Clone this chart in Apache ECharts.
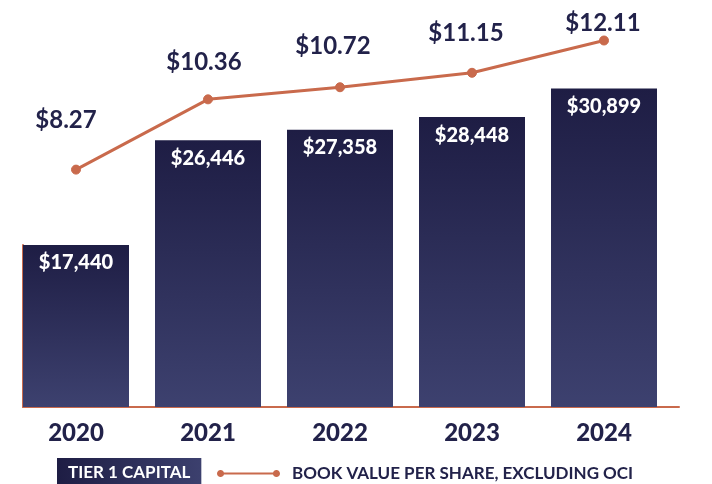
<!DOCTYPE html>
<html>
<head>
<meta charset="utf-8">
<script src="https://cdn.jsdelivr.net/npm/echarts@6/dist/echarts.min.js"></script>
<style>
  html, body { margin: 0; padding: 0; background: #ffffff; }
  #chart { width: 712px; height: 484px; }
</style>
</head>
<body>
<div id="chart"></div>
<script>
// ---- data ----
const years = ['2020', '2021', '2022', '2023', '2024'];
const tier1Capital = [17440, 26446, 27358, 28448, 30899];
const bookValuePerShare = [8.27, 10.36, 10.72, 11.15, 12.11];
const barSeriesName = 'TIER 1 CAPITAL';
const lineSeriesName = 'BOOK VALUE PER SHARE, EXCLUDING OCI';

// ---- style / layout ----
const NAVY = '#22224a';
const ORANGE = '#c96a4c';
const gridTop = 20, gridBottom = 77, gridH = 484 - gridTop - gridBottom;
const barMin = 3500, barMax = 36800;
const lineMin = 1.21, lineMax = 12.72;
// per-label nudges for the line value labels [dx, dy]
const lineLabelNudge = [[-10, -27], [-4, -15], [-7, -19], [-6, -18], [-1, 5]];

// height of first bar edge accent (computed from data through the same scale)
const firstBarTop = gridTop + gridH * (1 - (tier1Capital[0] - barMin) / (barMax - barMin));

const lineLegendIcon = 'path://' +
  'M0.5,4C0.5,2.067 2.067,0.5 4,0.5C5.933,0.5 7.5,2.067 7.5,4C7.5,5.933 5.933,7.5 4,7.5C2.067,7.5 0.5,5.933 0.5,4Z' +
  'M55.5,4C55.5,2.067 57.067,0.5 59,0.5C60.933,0.5 62.5,2.067 62.5,4C62.5,5.933 60.933,7.5 59,7.5C57.067,7.5 55.5,5.933 55.5,4Z' +
  'M7,3L56,3L56,5L7,5Z';

const chart = echarts.init(document.getElementById('chart'), null, { renderer: 'canvas' });

const option = {
  backgroundColor: '#ffffff',
  animation: false,
  textStyle: { fontFamily: 'Lato' },
  grid: [
    { left: 10, right: 42, top: gridTop, bottom: gridBottom },
    { left: 23, right: 33, top: firstBarTop, bottom: gridBottom }
  ],
  legend: [
    {
      data: [{ name: barSeriesName, icon: 'none' }],
      left: 52, top: 458, padding: 0,
      itemWidth: 0, itemHeight: 14,
      selectedMode: false,
      textStyle: {
        fontFamily: 'Lato', fontWeight: 'bold', fontSize: 17, color: '#ffffff',
        padding: [6, 11, 6, 11],
        backgroundColor: new echarts.graphic.LinearGradient(0, 0, 1, 0, [
          { offset: 0, color: '#1e1d44' }, { offset: 1, color: '#3c406e' }
        ])
      }
    },
    {
      data: [{ name: lineSeriesName, icon: lineLegendIcon }],
      left: 217, top: 465, padding: 0,
      itemWidth: 63, itemHeight: 8,
      selectedMode: false,
      itemStyle: { color: ORANGE, borderColor: ORANGE, borderWidth: 0, opacity: 1 },
      lineStyle: { width: 0, opacity: 0 },
      textStyle: {
        fontFamily: 'Lato', fontWeight: 'bold', fontSize: 17, color: NAVY,
        padding: [0, 0, 0, 7]
      }
    }
  ],
  xAxis: [
    {
      type: 'category', gridIndex: 0, data: years,
      axisLine: { show: false },
      axisTick: { show: false },
      axisLabel: {
        color: NAVY, fontFamily: 'Lato', fontWeight: 900, fontSize: 24, margin: 14
      }
    },
    {
      type: 'category', gridIndex: 1, data: [],
      axisLine: { show: true, lineStyle: { color: ORANGE, width: 2 } },
      axisTick: { show: false }, axisLabel: { show: false }
    }
  ],
  yAxis: [
    {
      type: 'value', gridIndex: 0, min: barMin, max: barMax,
      show: false, splitLine: { show: false }
    },
    {
      type: 'value', gridIndex: 0, min: lineMin, max: lineMax,
      show: false, splitLine: { show: false }
    },
    {
      type: 'value', gridIndex: 1, min: 0, max: 1,
      axisLine: { show: true, lineStyle: { color: ORANGE, width: 2 } },
      axisTick: { show: false }, axisLabel: { show: false }, splitLine: { show: false }
    }
  ],
  series: [
    {
      name: barSeriesName,
      type: 'bar',
      xAxisIndex: 0, yAxisIndex: 0,
      data: tier1Capital,
      barWidth: 106,
      itemStyle: {
        color: new echarts.graphic.LinearGradient(0, 0, 0, 1, [
          { offset: 0, color: '#1e1d44' }, { offset: 1, color: '#3d416f' }
        ])
      },
      label: {
        show: true, position: 'insideTop', distance: 8,
        color: '#ffffff', fontFamily: 'Lato', fontWeight: 900, fontSize: 20,
        formatter: p => '$' + p.value.toLocaleString('en-US')
      }
    },
    {
      name: lineSeriesName,
      type: 'line',
      xAxisIndex: 0, yAxisIndex: 1,
      data: bookValuePerShare.map((v, i) => ({
        value: v,
        label: { offset: lineLabelNudge[i] }
      })),
      color: ORANGE,
      lineStyle: { color: ORANGE, width: 3 },
      itemStyle: { color: ORANGE, borderColor: ORANGE },
      symbol: 'circle', symbolSize: 9,
      label: {
        show: true, position: 'top', distance: 5,
        color: NAVY, fontFamily: 'Lato', fontWeight: 'bold', fontSize: 24,
        formatter: p => '$' + p.value.toFixed(2)
      },
      z: 5
    }
  ]
};

chart.setOption(option);
</script>
</body>
</html>
